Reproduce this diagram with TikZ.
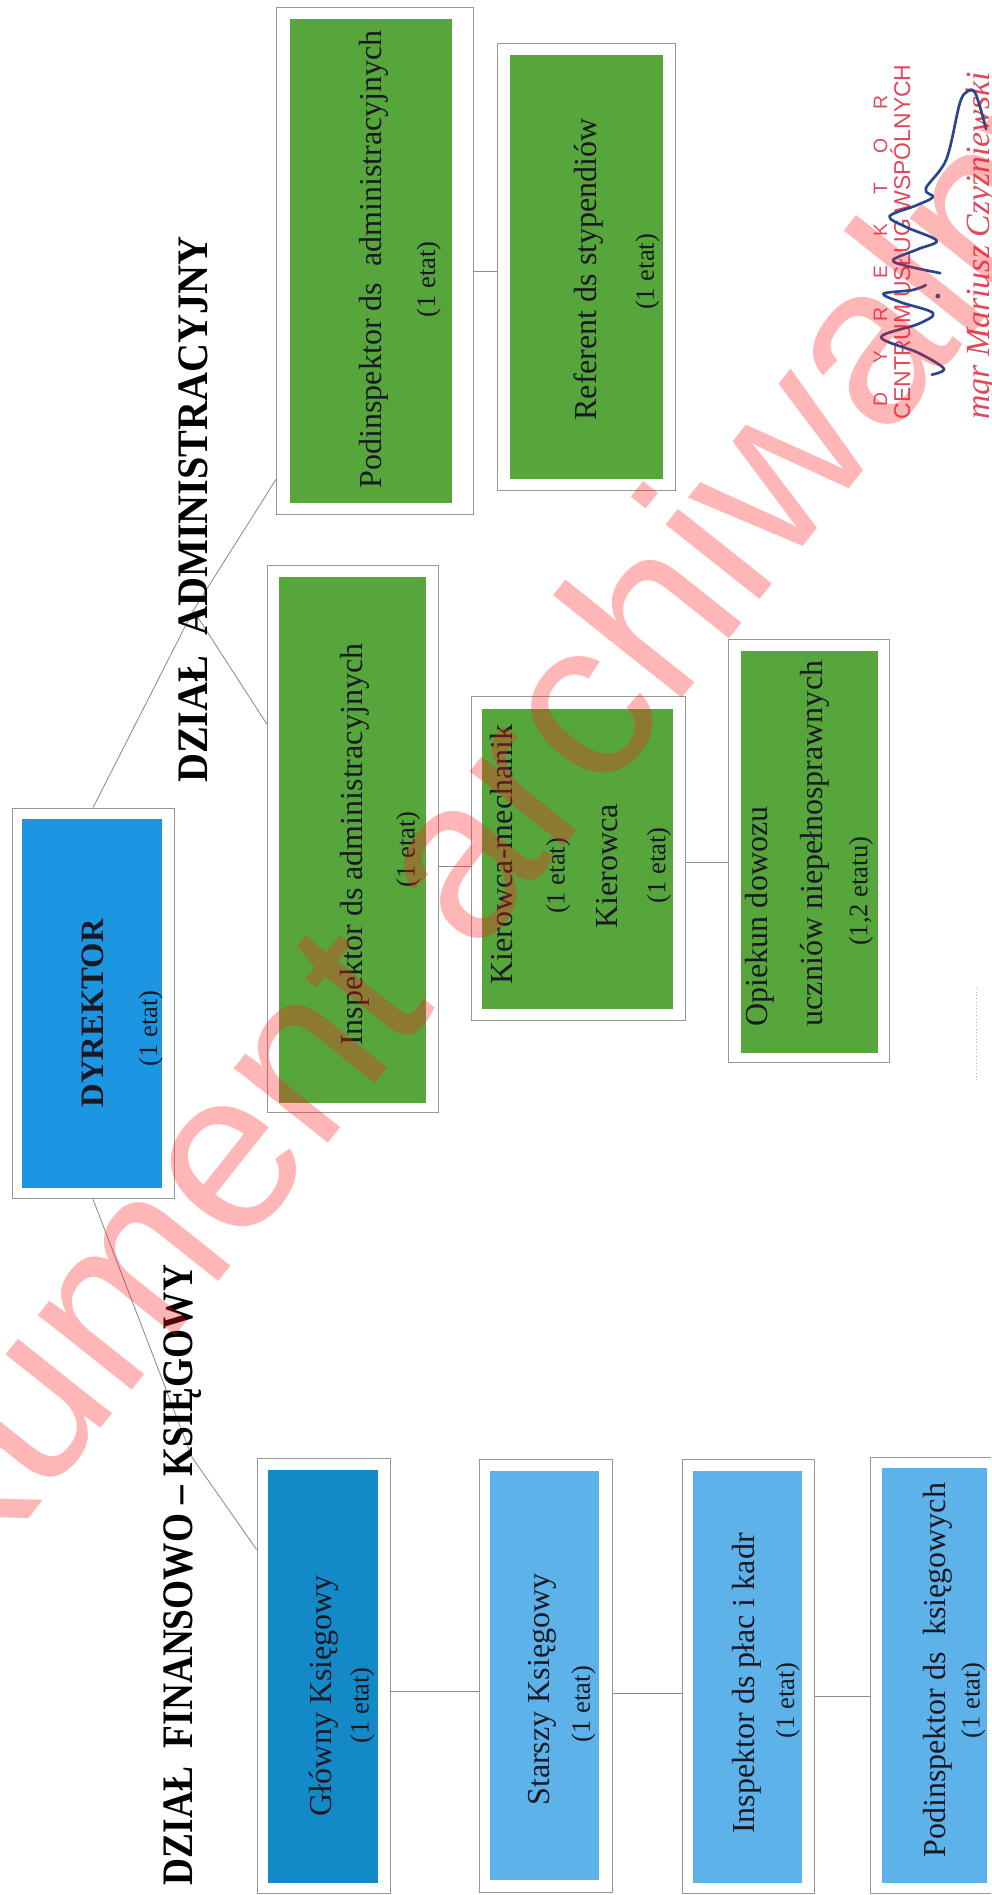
\documentclass[tikz,border=0pt]{standalone}
\usepackage{graphicx}
\usepackage{fontspec}
\setmainfont{Liberation Serif}
\newfontfamily\sansf{Liberation Sans}
\usetikzlibrary{fit}
\definecolor{dirblue}{RGB}{28,150,224}
\definecolor{gkblue}{RGB}{20,137,200}
\definecolor{ltblue}{RGB}{94,178,234}
\definecolor{grn}{RGB}{86,166,60}
\definecolor{bordergray}{RGB}{150,150,155}
\definecolor{conngray}{RGB}{140,140,140}
\definecolor{txt}{RGB}{25,25,35}
\definecolor{stampred}{RGB}{226,72,92}
\definecolor{sigblue}{RGB}{40,70,140}
\definecolor{wmred}{RGB}{255,30,30}
\begin{document}
\begin{tikzpicture}[x=1pt,y=-1pt,
  outerbox/.style={draw=bordergray, fill=white, inner sep=0pt, line width=0.8pt},
  innerbox/.style={inner sep=0pt, draw=none},
  conn/.style={draw=conngray, line width=0.7pt},
  lbl/.style={rotate=90, anchor=base, inner sep=0pt, text=txt, font=\fontsize{26.5}{31}\selectfont},
  etat/.style={lbl, font=\fontsize{22}{26}\selectfont},
  head/.style={rotate=90, anchor=base west, inner sep=0pt, text=black, font=\bfseries\fontsize{36}{40}\selectfont},
  stamp/.style={rotate=90, anchor=base west, inner sep=0pt, text=stampred},
  sig/.style={draw=sigblue, line width=2.2pt, line cap=round, line join=round}]
\useasboundingbox (0,0) rectangle (820,1568);
\fill[white] (0,0) rectangle (820,1568);
\begin{scope}
\clip (0,0) rectangle (820,1568);

% ---------- boxes ----------
\node[outerbox, fit={(10,668.6) (144,992)}] (dir) {};
\node[innerbox, fill=dirblue, fit={(18.2,677.7) (134,983)}] (dir-in) {};

\node[outerbox, fit={(229,6.3) (391.7,425.9)}] (pa) {};
\node[innerbox, fill=grn, fit={(239.8,15.8) (374.4,416.4)}] (pa-in) {};
\node[outerbox, fit={(411.7,36.3) (559.1,405.8)}] (ra) {};
\node[innerbox, fill=grn, fit={(421.8,45.9) (548.7,396.2)}] (ra-in) {};
\node[outerbox, fit={(221.3,467.7) (363,920.4)}] (ia) {};
\node[innerbox, fill=grn, fit={(230.9,477.8) (352.7,912.5)}] (ia-in) {};
\node[outerbox, fit={(390.1,576.5) (567.1,844.7)}] (kr) {};
\node[innerbox, fill=grn, fit={(399,587) (556.8,835.2)}] (kr-in) {};
\node[outerbox, fit={(603.1,529.2) (736.2,879.4)}] (op) {};
\node[innerbox, fill=grn, fit={(613.4,538.7) (726.6,871.5)}] (op-in) {};

\node[outerbox, fit={(212.7,1206.5) (322.7,1566.4)}] (gk) {};
\node[innerbox, fill=gkblue, fit={(221.8,1216.4) (312.8,1558.1)}] (gk-in) {};
\node[outerbox, fit={(396.4,1207.3) (506.4,1565.6)}] (sk) {};
\node[innerbox, fill=ltblue, fit={(405.5,1217.2) (495.7,1555.6)}] (sk-in) {};
\node[outerbox, fit={(564.3,1207.3) (673.6,1566.4)}] (ip) {};
\node[innerbox, fill=ltblue, fit={(573.4,1217.2) (663.6,1558.1)}] (ip-in) {};
\node[outerbox, fit={(719.9,1205.6) (826,1566.4)}] (pk) {};
\node[innerbox, fill=ltblue, fit={(729.8,1214.7) (816.7,1558.1)}] (pk-in) {};

% ---------- connectors ----------
\coordinate (jA) at (160,505);
\coordinate (jF) at (159,1206);
\draw[conn] (dir.north) -- (jA) -- ([yshift=30pt]pa.south west);
\draw[conn] (jA) -- ([yshift=-132pt]ia.north west);
\draw[conn] (dir.south) -- (jF) -- ([yshift=-76pt]gk.north west);

\draw[conn] ([yshift=-8.7pt]pa.east) -- ([yshift=-8.7pt]pa.east -| ra.west);
\draw[conn] ([yshift=-22.9pt]ia.east) -- ([yshift=-22.9pt]ia.east -| kr.west);
\draw[conn] ([yshift=-3.2pt]kr.east) -- ([yshift=-3.2pt]kr.east -| op.west);

\draw[conn] ([yshift=-13pt]gk.east) -- ([yshift=-13pt]gk.east -| sk.west);
\draw[conn] ([yshift=-14.5pt]sk.east) -- ([yshift=-14.5pt]sk.east -| ip.west);
\draw[conn] ([yshift=-16.5pt]ip.east) -- ([yshift=-16.5pt]ip.east -| pk.west);

% ---------- headings ----------
\node[head] (hf) at (159,1560) {\scalebox{0.858}[1]{DZIAŁ\ \ FINANSOWO – KSIĘGOWY}};
\node[head] (ha) at (172,648) {\scalebox{0.923}[1]{DZIAŁ\ \ ADMINISTRACYJNY}};

% ---------- box texts ----------
\node[lbl, font=\bfseries\fontsize{27}{31}\selectfont] (dir-t) at (86,838.5) {DYREKTOR};
\node[etat] (dir-e) at (130,851) {(1 etat)};

\node[lbl] (pa-t) at (316,214.5) {Podinspektor ds\ \ administracyjnych};
\node[etat] (pa-e) at (360,231) {(1 etat)};
\node[lbl] (ra-t) at (493.5,222.8) {Referent ds stypendiów};
\node[etat] (ra-e) at (541,225) {(1 etat)};
\node[lbl] (ia-t) at (299.7,699) {Inspektor ds administracyjnych};
\node[etat] (ia-e) at (343,702.8) {(1 etat)};
\node[lbl] (kr-t1) at (424,707) {Kierowca-mechanik};
\node[etat] (kr-e1) at (467.2,724.8) {(1 etat)};
\node[lbl] (kr-t2) at (511,717) {Kierowca};
\node[etat] (kr-e2) at (550.5,716) {(1 etat)};
\node[lbl, anchor=base west] (op-t1) at (635,849.4) {Opiekun dowozu};
\node[lbl, anchor=base west] (op-t2) at (680.5,849.4) {uczniów niepełnosprawnych};
\node[etat] (op-e) at (717.7,737.5) {(1,2 etatu)};

\node[lbl] (gk-t) at (274.6,1403) {Główny Księgowy};
\node[etat] (gk-e) at (305,1411) {(1 etat)};
\node[lbl] (sk-t) at (455,1398) {Starszy Księgowy};
\node[etat] (sk-e) at (488,1410) {(1 etat)};
\node[lbl] (ip-t) at (624.5,1393) {Inspektor ds płac i kadr};
\node[etat] (ip-e) at (657,1407) {(1 etat)};
\node[lbl] (pk-t) at (782.5,1382) {Podinspektor ds\ \ księgowych};
\node[etat] (pk-e) at (810.5,1407) {(1 etat)};

% ---------- stamp ----------
\node[stamp, font=\sansf\fontsize{16}{18}\selectfont] (s1) at (734,336.5)
  {D\kern24pt Y\kern24pt R\kern24pt E\kern24pt K\kern24pt T\kern24pt O\kern24pt R};
\node[stamp, font=\sansf\fontsize{19}{21}\selectfont] (s2) at (753,347) {CENTRUM USŁUG WSPÓLNYCH};
\node[stamp, font=\itshape\fontsize{28}{30}\selectfont] (s3) at (819,347.5) {mgr Mariusz Czyżniewski};
\draw[sig] plot[smooth, tension=0.55] coordinates {(771,310) (781,305) (760,292) (729,279) (760,268) (772,259) (745,250) (731,243) (755,240) (766,236)};
\fill[sigblue] (776,245) circle (2);
\draw[sig] plot[smooth, tension=0.55] coordinates {(778,226) (750,220) (739,215) (760,206) (775,199) (750,188) (736,179) (758,170) (772,163) (766,156) (783,132) (794,86) (800,76) (807,77) (816,107)};
\draw[dotted, draw=gray!60, line width=0.8pt] (808,817.6) -- (808,895);

% ---------- watermark ----------
\node[rotate=51.5, anchor=base west, inner sep=0pt, text=wmred, text opacity=0.32,
      font=\sansf\fontsize{188}{190}\selectfont] (wm) at (36,1242) {\llap{dok}ument archiwaln\rlap{y}};
\end{scope}
\end{tikzpicture}
\end{document}
